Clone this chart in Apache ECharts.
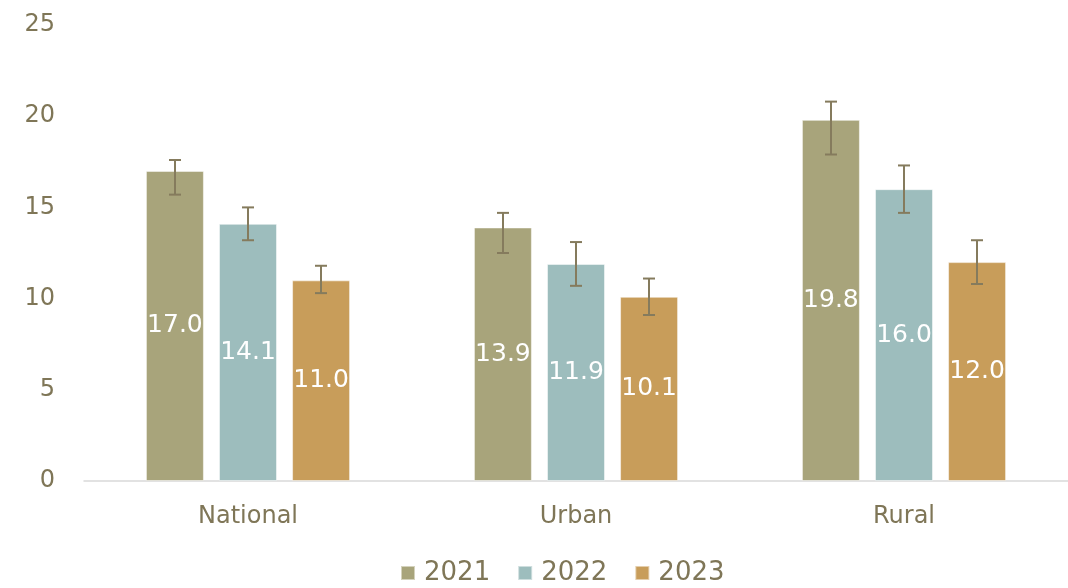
<!DOCTYPE html>
<html><head><meta charset="utf-8">
<script src="https://cdn.jsdelivr.net/npm/echarts@6/dist/echarts.min.js"></script>
<style>html,body{margin:0;padding:0;background:#fff}#c{width:1068px;height:588px}</style>
</head><body><div id="c"></div>
<script>
const categories = ['National', 'Urban', 'Rural'];
const years = ['2021', '2022', '2023'];
const values2021 = [17.0, 13.9, 19.8];
const values2022 = [14.1, 11.9, 16.0];
const values2023 = [11.0, 10.1, 12.0];
const low2021 = [15.7, 12.5, 17.9];
const high2021 = [17.6, 14.7, 20.8];
const low2022 = [13.2, 10.7, 14.7];
const high2022 = [15.0, 13.1, 17.3];
const low2023 = [10.3, 9.1, 10.8];
const high2023 = [11.8, 11.1, 13.2];
const yTicks = [0, 5, 10, 15, 20, 25];

const colors = ['#a8a47b', '#9dbdbd', '#c89d5a'];
const textColor = '#7f7657';
const errColor = '#857b5d';
const font = 'DejaVu Sans';

const vals = [values2021, values2022, values2023];
const lows = [low2021, low2022, low2023];
const highs = [high2021, high2022, high2023];

const chart = echarts.init(document.getElementById('c'));
const series = [];
years.forEach((y, i) => {
  series.push({
    name: y, type: 'bar', data: vals[i],
    itemStyle: { color: colors[i], borderColor: 'rgba(255,255,255,0.5)', borderWidth: 1 },
    barWidth: 58, barGap: '26%',
    label: { show: true, position: 'inside', color: '#fff', fontSize: 25, fontFamily: font,
      formatter: p => p.value.toFixed(1) }
  });
});
years.forEach((y, i) => {
  series.push({
    type: 'custom', name: 'err' + y,
    data: categories.map((c, k) => [k, lows[i][k], highs[i][k]]),
    z: 10,
    renderItem: (params, api) => {
      const k = api.value(0);
      const lo = api.coord([k, api.value(1)]);
      const hi = api.coord([k, api.value(2)]);
      const bw = 58, gap = 15;
      const offset = (i - 1) * (bw + gap);
      const x = lo[0] + offset;
      const cw = 6;
      const st = { stroke: errColor, lineWidth: 2 };
      return { type: 'group', children: [
        { type: 'line', shape: { x1: x, y1: lo[1], x2: x, y2: hi[1] }, style: st },
        { type: 'line', shape: { x1: x - cw, y1: lo[1], x2: x + cw, y2: lo[1] }, style: st },
        { type: 'line', shape: { x1: x - cw, y1: hi[1], x2: x + cw, y2: hi[1] }, style: st }
      ]};
    },
    encode: { x: 0, y: [1, 2] },
    silent: true
  });
});

chart.setOption({
  animation: false,
  grid: { left: 84, right: -3, top: 25, bottom: 107, containLabel: false },
  legend: {
    data: years, bottom: -3, left: 395, itemWidth: 14, itemHeight: 14, itemGap: 27,
    textStyle: { color: textColor, fontSize: 26, fontFamily: font, padding: [0, 0, 0, 4] }, icon: 'rect'
  },
  xAxis: {
    type: 'category', data: categories,
    axisLine: { lineStyle: { color: '#d9d9d9', width: 1.5 } },
    axisTick: { show: false },
    axisLabel: { color: textColor, fontSize: 24, fontFamily: font, margin: 24 }
  },
  yAxis: {
    type: 'value', min: yTicks[0], max: yTicks[yTicks.length - 1], interval: 5,
    splitLine: { show: false }, axisLine: { show: false }, axisTick: { show: false },
    axisLabel: { color: textColor, fontSize: 24, fontFamily: font, margin: 29 }
  },
  series
});
</script></body></html>
